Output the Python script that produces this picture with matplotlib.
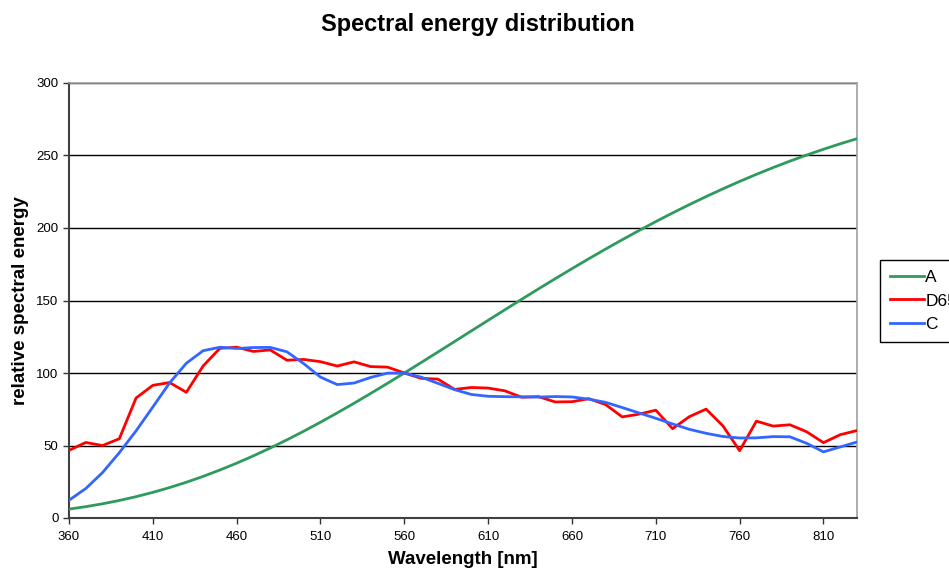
import matplotlib
matplotlib.use("Agg")
import matplotlib.pyplot as plt

plt.rcParams['font.family'] = ['Liberation Sans', 'DejaVu Sans']

wavelength = list(range(360, 831, 10))

illum_A = [6.14, 7.82, 9.80, 12.09, 14.71, 17.68, 20.99, 24.67, 28.70, 33.09,
           37.81, 42.87, 48.24, 53.91, 59.86, 66.06, 72.50, 79.13, 85.95, 92.91,
           100.00, 107.18, 114.44, 121.73, 129.04, 136.35, 143.62, 150.84, 157.98, 165.03,
           171.96, 178.77, 185.43, 191.93, 198.26, 204.41, 210.36, 216.12, 221.67, 227.00,
           232.12, 237.01, 241.68, 246.12, 250.33, 254.31, 258.07, 261.60]

illum_D65 = [46.64, 52.09, 49.98, 54.65, 82.75, 91.49, 93.43, 86.68, 104.86, 117.01,
             117.81, 114.86, 115.92, 108.81, 109.35, 107.80, 104.79, 107.69, 104.41, 104.05,
             100.00, 96.33, 95.79, 88.69, 90.01, 89.60, 87.70, 83.29, 83.70, 80.03,
             80.21, 82.28, 78.28, 69.72, 71.61, 74.35, 61.60, 69.89, 75.09, 63.59,
             46.42, 66.81, 63.38, 64.30, 59.45, 51.96, 57.44, 60.31]

illum_C = [12.25, 20.32, 31.34, 45.01, 60.11, 76.54, 93.16, 106.74, 115.38, 117.76,
           116.90, 117.57, 117.66, 114.62, 106.46, 97.15, 92.02, 93.07, 96.96, 99.91,
           100.00, 97.15, 92.88, 88.51, 85.19, 83.95, 83.67, 83.57, 83.38, 83.76,
           83.48, 81.96, 79.77, 76.16, 72.46, 68.76, 64.86, 61.16, 58.40, 56.22,
           55.18, 55.27, 56.13, 56.00, 51.50, 45.60, 49.00, 52.40]

x_ticks = list(range(360, 811, 50))
y_ticks = list(range(0, 301, 50))

fig = plt.figure(figsize=(9.49, 5.72), dpi=100)
ax = fig.add_axes([69/949, 1 - 518/572, (857 - 69)/949, (518 - 83)/572])

ax.plot(wavelength, illum_A, color='#2E9A5C', lw=2.0, label='A', zorder=3)
ax.plot(wavelength, illum_D65, color='#FF0000', lw=2.0, label='D65', zorder=3)
ax.plot(wavelength, illum_C, color='#3366FF', lw=2.0, label='C', zorder=4)

ax.set_xlim(360, 830)
ax.set_ylim(0, 300)
ax.set_xticks(x_ticks)
ax.set_yticks(y_ticks)
ax.tick_params(axis='both', direction='out', length=4, width=1, labelsize=9.5, colors='#333333')
ax.tick_params(axis='both', labelcolor='black')
ax.tick_params(axis='x', pad=5)
ax.yaxis.grid(True, color='black', lw=1)
ax.set_axisbelow(True)

for s in ('left', 'bottom'):
    ax.spines[s].set_color('#404040')
    ax.spines[s].set_linewidth(1.5)
for s in ('top', 'right'):
    ax.spines[s].set_color('#A0A0A0')
    ax.spines[s].set_linewidth(1.2)

ax.set_xlabel('Wavelength [nm]', fontsize=13.5, fontweight='bold', labelpad=6)
ax.set_ylabel('relative spectral energy', fontsize=13.5, fontweight='bold', labelpad=5)
fig.text(478/949, 1 - 25/572, 'Spectral energy distribution', fontsize=17,
         fontweight='bold', ha='center', va='center')

leg = fig.legend(loc='upper left', bbox_to_anchor=(880/949, 1 - 260/572),
                 frameon=True, fancybox=False, framealpha=1, edgecolor='black',
                 fontsize=12.5, handlelength=2.0, handletextpad=0.05, borderpad=0.55,
                 labelspacing=0.5, borderaxespad=0)
leg.get_frame().set_linewidth(1)

fig.savefig('out.png', dpi=100)
